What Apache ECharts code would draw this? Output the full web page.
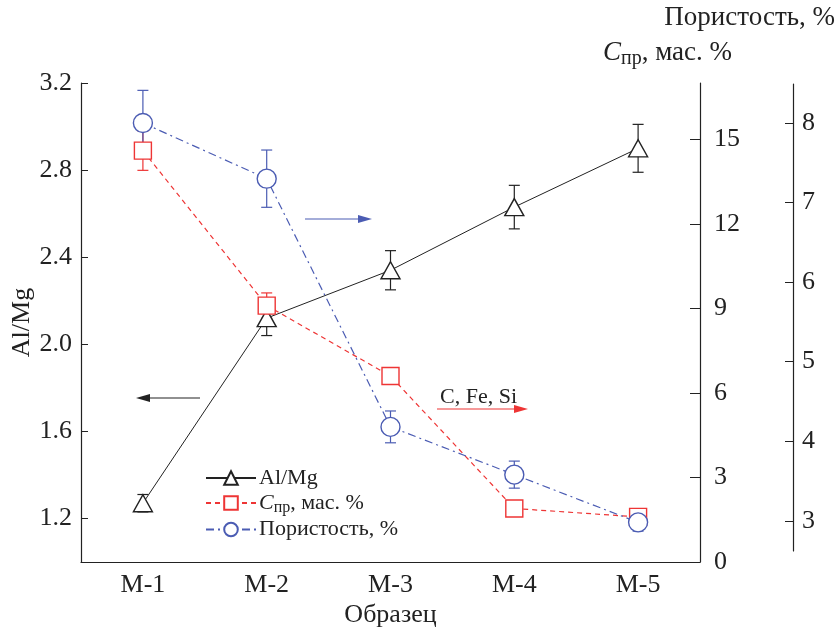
<!DOCTYPE html>
<html><head><meta charset="utf-8">
<script src="https://cdn.jsdelivr.net/npm/echarts@6/dist/echarts.min.js"></script>
<style>html,body{margin:0;padding:0;background:#fff}#c{width:837px;height:628px}</style>
</head><body><div id="c"></div>
<script>
const categories = ['М-1', 'М-2', 'М-3', 'М-4', 'М-5'];
const alMg = [1.27, 2.12, 2.34, 2.63, 2.90];
const alMgErr = [0.04, 0.08, 0.09, 0.10, 0.11];
const cPr = [14.6, 9.1, 6.6, 1.9, 1.6];
const cPrErr = [0.7, 0.45, 0.25, 0.25, 0.25];
const porosity = [8.0, 7.3, 4.18, 3.58, 2.98];
const porosityErr = [0.41, 0.36, 0.2, 0.17, 0.11];
const leftTicks = [1.2, 1.6, 2.0, 2.4, 2.8, 3.2];
const midTicks = [0, 3, 6, 9, 12, 15];
const rightTicks = [3, 4, 5, 6, 7, 8];

const FONT = '"Liberation Serif", "DejaVu Serif", serif';
const INK = '#222';
const RED = '#ee3535';
const BLUE = '#4b5cb3';
const FS = 26;

function errRender(color) {
  return function (params, api) {
    const x = api.value(0), y = api.value(1), e = api.value(2);
    const t = api.coord([x, y + e]);
    const b = api.coord([x, y - e]);
    const w = 5.5;
    const st = { stroke: color, lineWidth: 1.2 };
    return { type: 'group', children: [
      { type: 'line', shape: { x1: t[0], y1: t[1], x2: b[0], y2: b[1] }, style: st },
      { type: 'line', shape: { x1: t[0] - w, y1: t[1], x2: t[0] + w, y2: t[1] }, style: st },
      { type: 'line', shape: { x1: b[0] - w, y1: b[1], x2: b[0] + w, y2: b[1] }, style: st }
    ]};
  };
}
function errData(v, e) { return v.map((y, i) => [i, y, e[i]]); }

const chart = echarts.init(document.getElementById('c'));
const axisLabelBase = { color: INK, fontFamily: FONT, fontSize: FS };
chart.setOption({
  backgroundColor: '#fff',
  animation: false,
  textStyle: { fontFamily: FONT, color: INK },
  grid: [
    { left: 81, right: 137, top: 83, bottom: 66, outerBoundsMode: 'none', containLabel: false },
    { left: 81, right: 137, top: 84, bottom: 77, outerBoundsMode: 'none', containLabel: false }
  ],
  xAxis: [
    { type: 'category', gridIndex: 0, data: categories, boundaryGap: true,
      axisLine: { lineStyle: { color: INK, width: 1.2 } },
      axisTick: { inside: true, alignWithLabel: true, length: 6, lineStyle: { color: INK } },
      axisLabel: Object.assign({}, axisLabelBase, { margin: 10 }),
      name: 'Образец', nameLocation: 'middle', nameGap: 40, nameMoveOverlap: false,
      nameTextStyle: { fontFamily: FONT, fontSize: FS, color: INK } },
    { type: 'category', gridIndex: 1, data: categories, boundaryGap: true, show: false }
  ],
  yAxis: [
    { type: 'value', gridIndex: 0, position: 'left', min: 1.0, max: 3.2,
      splitLine: { show: false },
      axisLine: { show: true, lineStyle: { color: INK, width: 1.2 } },
      axisTick: { show: true, inside: true, length: 7, customValues: leftTicks, lineStyle: { color: INK } },
      axisLabel: Object.assign({}, axisLabelBase, { margin: 9, customValues: leftTicks, formatter: v => v.toFixed(1) }),
      name: 'Al/Mg', nameLocation: 'middle', nameGap: 46, nameRotate: 90, nameMoveOverlap: false,
      nameTextStyle: { fontFamily: FONT, fontSize: FS, color: INK } },
    { type: 'value', gridIndex: 0, position: 'right', min: 0, max: 17,
      splitLine: { show: false },
      axisLine: { show: true, lineStyle: { color: INK, width: 1.2 } },
      axisTick: { show: true, inside: true, length: 10, customValues: midTicks, lineStyle: { color: INK } },
      axisLabel: Object.assign({}, axisLabelBase, { margin: 14, customValues: midTicks }) },
    { type: 'value', gridIndex: 1, position: 'right', offset: 93, min: 2.62, max: 8.49,
      splitLine: { show: false },
      axisLine: { show: true, lineStyle: { color: INK, width: 1.2 } },
      axisTick: { show: true, inside: true, length: 8, customValues: rightTicks, lineStyle: { color: INK } },
      axisLabel: Object.assign({}, axisLabelBase, { margin: 9, customValues: rightTicks }) }
  ],
  legend: {
    orient: 'vertical', left: 200, top: 462, itemGap: 3, itemWidth: 50, itemHeight: 17,
    textStyle: { fontFamily: FONT, fontSize: 22, color: INK, padding: [0, 0, 0, -2],
      rich: { i: { fontFamily: FONT, fontSize: 22, fontStyle: 'italic', color: INK },
              s: { fontFamily: FONT, fontSize: 16, color: INK, verticalAlign: 'bottom', padding: [9, 0, 0, 0] },
              n: { fontFamily: FONT, fontSize: 22, color: INK } } },
    formatter: function (name) {
      if (name === 'Cpr') return '{i|C}{s|пр}{n|, мас. %}';
      return name;
    },
    data: ['Al/Mg', 'Cpr', 'Пористость, %']
  },
  series: [
    { type: 'custom', xAxisIndex: 0, yAxisIndex: 0, renderItem: errRender(INK), data: errData(alMg, alMgErr), z: 1, silent: true },
    { type: 'custom', xAxisIndex: 0, yAxisIndex: 1, renderItem: errRender(RED), data: errData(cPr, cPrErr), z: 1, silent: true },
    { type: 'custom', xAxisIndex: 1, yAxisIndex: 2, renderItem: errRender(BLUE), data: errData(porosity, porosityErr), z: 1, silent: true },
    { name: 'Al/Mg', type: 'line', xAxisIndex: 0, yAxisIndex: 0, data: alMg, z: 3,
      symbol: 'triangle', symbolSize: [19, 17],
      lineStyle: { color: INK, width: 1 },
      itemStyle: { color: '#fff', borderColor: INK, borderWidth: 1.4 } },
    { name: 'Cpr', type: 'line', xAxisIndex: 0, yAxisIndex: 1, data: cPr, z: 3,
      symbol: 'rect', symbolSize: 17,
      lineStyle: { color: RED, width: 1.2, type: [5, 4] },
      itemStyle: { color: '#fff', borderColor: RED, borderWidth: 1.4 } },
    { name: 'Пористость, %', type: 'line', xAxisIndex: 1, yAxisIndex: 2, data: porosity, z: 4,
      symbol: 'circle', symbolSize: 19,
      lineStyle: { color: BLUE, width: 1.2, type: [8, 4, 2, 4] },
      itemStyle: { color: '#fff', borderColor: BLUE, borderWidth: 1.4 } }
  ],
  graphic: [
    { type: 'text', right: 2, top: 4, style: { text: 'Пористость, %', font: '27px ' + FONT, fill: INK } },
    { type: 'text', right: 105, top: 39, style: {
        text: '{i|C}{s|пр}{n|, мас. %}', fill: INK,
        rich: { i: { font: 'italic 27px ' + FONT, fill: INK },
                s: { font: '20px ' + FONT, fill: INK, padding: [12, 0, 0, 0] },
                n: { font: '27px ' + FONT, fill: INK } } } },
    // blue arrow (porosity -> right axis)
    { type: 'line', shape: { x1: 305, y1: 219, x2: 360, y2: 219 }, style: { stroke: BLUE, lineWidth: 1.2 } },
    { type: 'polygon', shape: { points: [[372, 219], [358, 215], [358, 223]] }, style: { fill: BLUE } },
    // black arrow (Al/Mg -> left axis)
    { type: 'line', shape: { x1: 148, y1: 398, x2: 200, y2: 398 }, style: { stroke: INK, lineWidth: 1.2 } },
    { type: 'polygon', shape: { points: [[136, 398], [150, 394], [150, 402]] }, style: { fill: INK } },
    // red arrow
    { type: 'line', shape: { x1: 437, y1: 409, x2: 516, y2: 409 }, style: { stroke: RED, lineWidth: 1.2 } },
    { type: 'polygon', shape: { points: [[528, 409], [514, 405], [514, 413]] }, style: { fill: RED } },
    { type: 'text', left: 440, top: 386, style: { text: 'C, Fe, Si', font: '22px ' + FONT, fill: INK } }
  ]
});
</script></body></html>
